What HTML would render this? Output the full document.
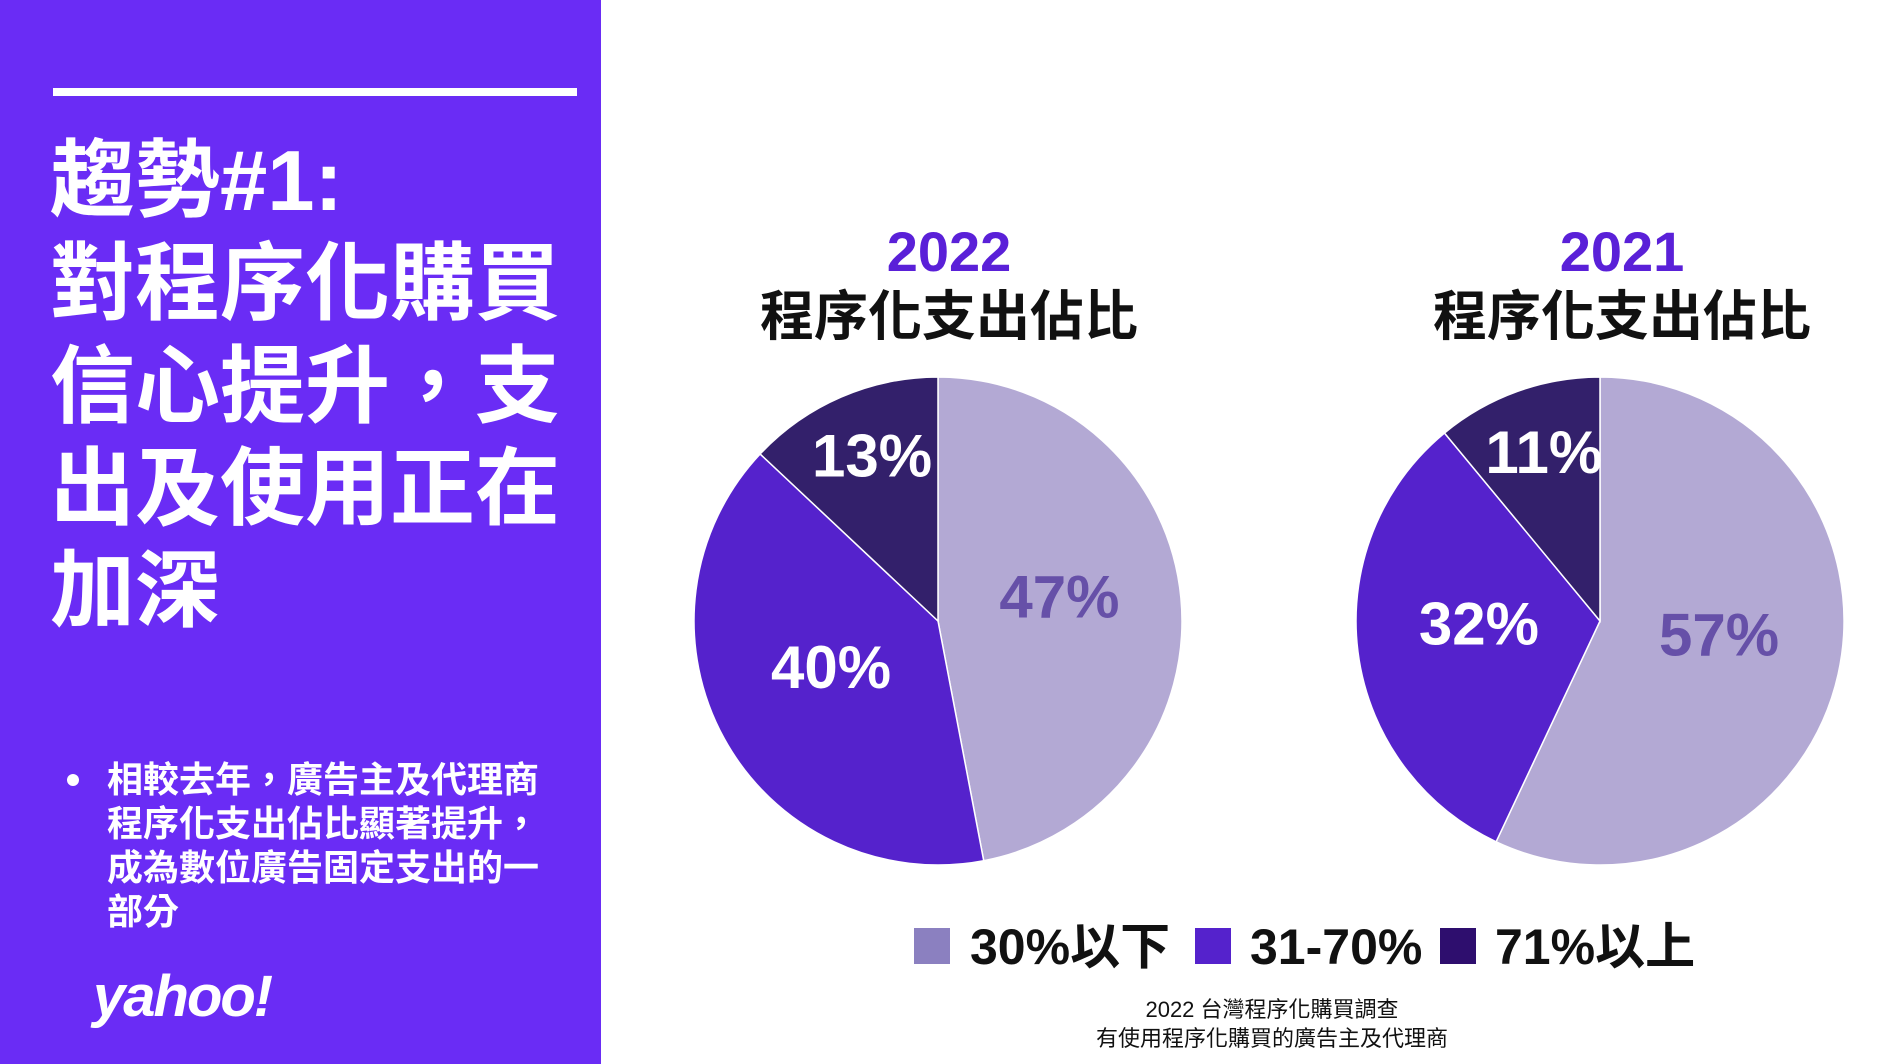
<!DOCTYPE html>
<html><head><meta charset="utf-8">
<style>
html,body{margin:0;padding:0;width:1898px;height:1064px;overflow:hidden;background:#fff;}
svg{display:block;}
</style></head>
<body>
<svg id="chart" width="1898" height="1064" viewBox="0 0 1898 1064" xmlns="http://www.w3.org/2000/svg">
  <rect x="0" y="0" width="601" height="1064" fill="#6a2cf5"/>
  <rect x="53" y="88" width="524" height="8" fill="#ffffff"/>
  <g font-family="'Liberation Sans','Noto Sans CJK TC',sans-serif" font-weight="bold" fill="#ffffff" font-size="85">
    <text x="50" y="210">趨勢#1:</text>
    <text x="50" y="313">對程序化購買</text>
    <text x="50" y="416">信心提升，支</text>
    <text x="50" y="518">出及使用正在</text>
    <text x="50" y="620">加深</text>
  </g>
  <circle cx="73" cy="780" r="6" fill="#fff"/>
  <g font-family="'Liberation Sans','Noto Sans CJK TC',sans-serif" font-weight="bold" fill="#ffffff" font-size="36">
    <text x="107" y="792">相較去年，廣告主及代理商</text>
    <text x="107" y="836">程序化支出佔比顯著提升，</text>
    <text x="107" y="880">成為數位廣告固定支出的一</text>
    <text x="107" y="924">部分</text>
  </g>
  <text x="93" y="1016" font-family="'Liberation Sans',sans-serif" font-weight="bold" font-style="italic" font-size="58" fill="#fff" letter-spacing="-2">yahoo!</text>

  <g font-family="'Liberation Sans','Noto Sans CJK TC',sans-serif" font-weight="bold" text-anchor="middle">
    <text x="949" y="271" font-size="56" fill="#5a20d8">2022</text>
    <text x="949" y="335" font-size="54" fill="#111">程序化支出佔比</text>
    <text x="1622" y="271" font-size="56" fill="#5a20d8">2021</text>
    <text x="1622" y="335" font-size="54" fill="#111">程序化支出佔比</text>
  </g>
  <g id="pies"></g>

  <g font-family="'Liberation Sans','Noto Sans CJK TC',sans-serif" font-weight="bold" font-size="50" fill="#111">
    <rect x="914" y="928" width="36" height="36" fill="#8b80c0"/>
    <text x="970" y="964">30%以下</text>
    <rect x="1195" y="928" width="36" height="36" fill="#5522cc"/>
    <text x="1250" y="964">31-70%</text>
    <rect x="1440" y="928" width="36" height="36" fill="#2e0e6e"/>
    <text x="1495" y="964">71%以上</text>
  </g>
  <g font-family="'Liberation Sans','Noto Sans CJK TC',sans-serif" font-size="22" fill="#111" text-anchor="middle">
    <text x="1272" y="1017">2022 台灣程序化購買調查</text>
    <text x="1272" y="1046">有使用程序化購買的廣告主及代理商</text>
  </g>
</svg>
<script>
const categories = ["30%以下", "31-70%", "71%以上"];
const values2022 = [47, 40, 13];
const values2021 = [57, 32, 11];
const years = ["2022", "2021"];

const NS = "http://www.w3.org/2000/svg";
const sliceColors = ["#b3a9d4", "#5522cc", "#33206b"];
const labelColors = ["#6650a8", "#ffffff", "#ffffff"];
const pies = document.getElementById("pies");

function drawPie(vals, cx, cy, r, year) {
  const total = vals.reduce((a, b) => a + b, 0);
  let acc = 0;
  vals.forEach((v, i) => {
    const a0 = acc / total * 2 * Math.PI;
    acc += v;
    const a1 = acc / total * 2 * Math.PI;
    const x0 = cx + r * Math.sin(a0), y0 = cy - r * Math.cos(a0);
    const x1 = cx + r * Math.sin(a1), y1 = cy - r * Math.cos(a1);
    const large = (a1 - a0) > Math.PI ? 1 : 0;
    const p = document.createElementNS(NS, "path");
    p.setAttribute("d", `M${cx},${cy} L${x0},${y0} A${r},${r} 0 ${large} 1 ${x1},${y1} Z`);
    p.setAttribute("fill", sliceColors[i]);
    p.setAttribute("stroke", "#ffffff");
    p.setAttribute("stroke-width", "1.5");
    
    
    pies.appendChild(p);
    const am = (a0 + a1) / 2;
    const frac = v / total < 0.2 ? 0.68 : 0.5;
    const t = document.createElementNS(NS, "text");
    t.setAttribute("x", cx + r * frac * Math.sin(am));
    t.setAttribute("y", cy - r * frac * Math.cos(am) + 8);
    t.setAttribute("text-anchor", "middle");
    t.setAttribute("font-family", "'Liberation Sans',sans-serif");
    t.setAttribute("font-weight", "bold");
    t.setAttribute("font-size", "60");
    t.setAttribute("fill", labelColors[i]);
    t.textContent = v + "%";
    
    
    pies.appendChild(t);
  });
}
drawPie(values2022, 938, 621, 244, years[0]);
drawPie(values2021, 1600, 621, 244, years[1]);
</script>
</body></html>
